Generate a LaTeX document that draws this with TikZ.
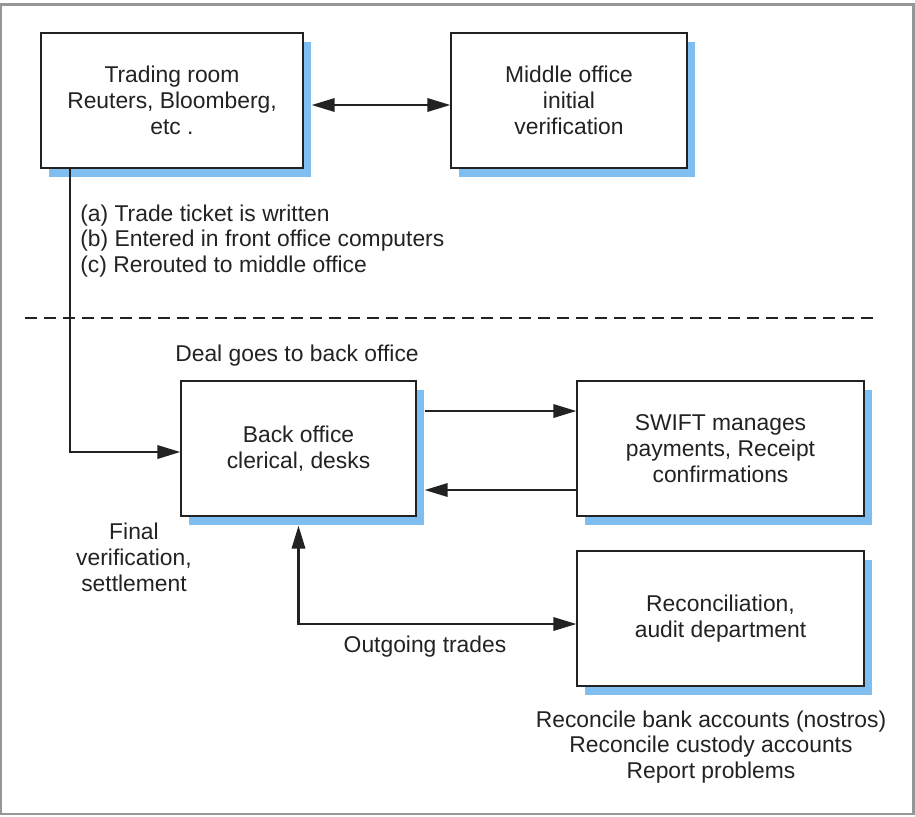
\documentclass[tikz,border=0pt]{standalone}
\usepackage{fontspec}
\setmainfont{Liberation Sans}
\usetikzlibrary{arrows.meta, shadows}
\definecolor{shadowblue}{RGB}{128,190,240}
\definecolor{framegray}{RGB}{150,150,150}
\definecolor{ink}{RGB}{34,34,34}
\tikzstyle{office} = [rectangle, draw=ink, line width=0.85pt, fill=white, minimum height=2.7cm, text=ink, align=center, font=\fontsize{13}{14.7}\selectfont, drop shadow={shadow xshift=0.16cm, shadow yshift=-0.18cm, fill=shadowblue, opacity=1}]
\tikzstyle{note} = [text=ink, font=\fontsize{13}{14.7}\selectfont, inner sep=0]
\tikzstyle{arrow} = [line width=1.15pt, ink, >={Triangle[length=0.46cm,width=0.27cm]}]

\begin{document}
\begin{tikzpicture}[x=0.02cm, y=-0.02cm]
\useasboundingbox (0,0) rectangle (915,816);
\draw[framegray, line width=1.4pt] (1,4.5) rectangle (913.5,814);

\node[office, minimum width=5.24cm] (trading) at (172,100.5) {Trading room\\Reuters, Bloomberg,\\etc .};
\node[office, minimum width=4.72cm] (middle) at (569,100.5) {Middle office\\initial\\verification};
\node[office, minimum width=4.7cm] (back) at (298.5,448.5) {Back office\\clerical, desks};
\node[office, minimum width=5.74cm] (swift) at (720.5,448.5) {SWIFT manages\\payments, Receipt\\confirmations};
\node[office, minimum width=5.74cm] (recon) at (720.5,618.5) {Reconciliation,\\audit department};

\node[note, anchor=west, align=left] (steps) at (80,241) {(a) Trade ticket is written\\(b) Entered in front office computers\\(c) Rerouted to middle office};
\node[note] (deal) at (297,356) {Deal goes to back office};
\node[note, align=center] (final) at (134,557) {Final\\verification,\\settlement};
\node[note] (outgoing) at (425,647) {Outgoing trades};
\node[note, align=center] (checks) at (711,747) {Reconcile bank accounts (nostros)\\Reconcile custody accounts\\Report problems};

\draw[ink, line width=0.8pt, dash pattern=on 0.24cm off 0.14cm] (25,318) -- (877,318);

\draw[arrow,<->] ([xshift=0.16cm,yshift=-0.09cm]trading.east) -- ([yshift=-0.09cm]middle.west);
\draw[arrow,->] ([xshift=0.6cm]trading.south west) |- ([yshift=-0.07cm]back.west);
\draw[arrow,->] ([xshift=0.16cm,yshift=0.75cm]back.east) -- ([yshift=0.75cm]swift.west);
\draw[arrow,->] ([yshift=-0.83cm]swift.west) -- ([xshift=0.16cm,yshift=-0.83cm]back.east);
\draw[arrow,<->] ([yshift=-0.18cm]back.south) |- ([yshift=-0.11cm]recon.west);
\end{tikzpicture}
\end{document}
